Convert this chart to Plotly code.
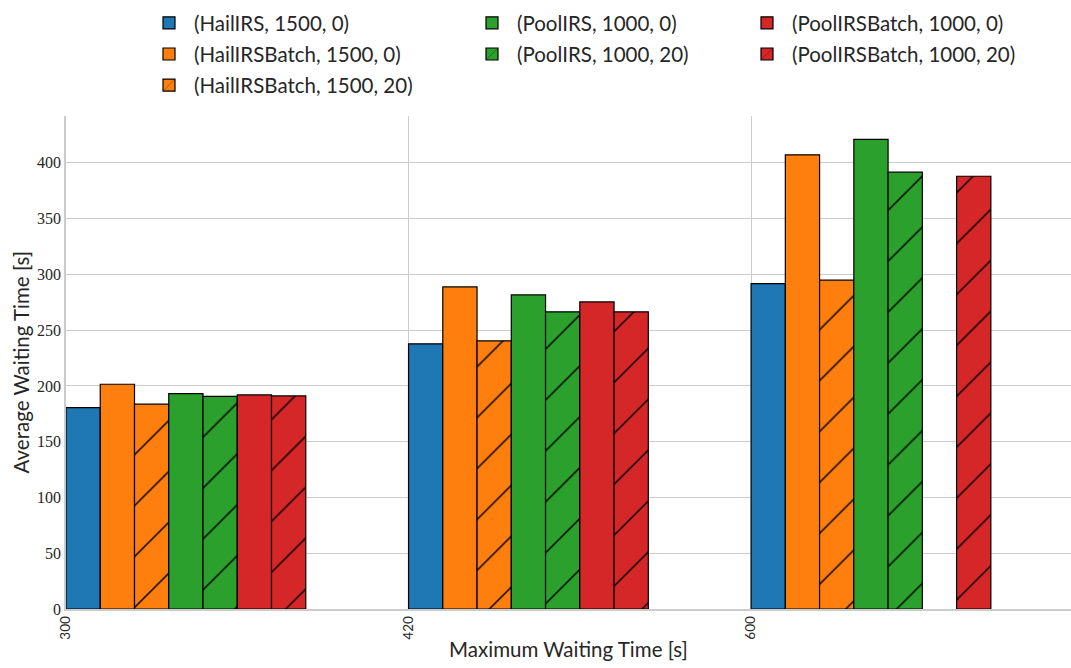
import plotly.graph_objects as go

categories = ["300", "420", "600"]
series_names = [
    "(HailIRS, 1500, 0)",
    "(HailIRSBatch, 1500, 0)",
    "(HailIRSBatch, 1500, 20)",
    "(PoolIRS, 1000, 0)",
    "(PoolIRS, 1000, 20)",
    "(PoolIRSBatch, 1000, 0)",
    "(PoolIRSBatch, 1000, 20)",
]
hail_irs_0 = [180.5, 237.7, 291.8]
hail_batch_0 = [201.5, 288.8, 407.2]
hail_batch_20 = [183.6, 240.4, 294.8]
pool_irs_0 = [193.1, 281.6, 421.0]
pool_irs_20 = [190.7, 266.4, 391.6]
pool_batch_0 = [191.9, 275.3, None]
pool_batch_20 = [191.0, 266.4, 388.0]

values = [hail_irs_0, hail_batch_0, hail_batch_20, pool_irs_0, pool_irs_20, pool_batch_0, pool_batch_20]
colors = ["#1f77b4", "#ff7f0e", "#ff7f0e", "#2ca02c", "#2ca02c", "#d62728", "#d62728"]
hatched = [False, False, True, False, True, False, True]
legend_ids = ["legend", "legend", "legend", "legend2", "legend2", "legend3", "legend3"]

x_title = "Maximum Waiting Time [s]"
y_title = "Average Waiting Time [s]"

bar_w = 0.1
sans = "Lato"
serif = "Liberation Serif"
txt = "#262626"

fig = go.Figure()
for k, (name, vals) in enumerate(zip(series_names, values)):
    xs = [i + k * bar_w for i in range(len(categories))]
    pattern = dict(shape="/", fgcolor="black", bgcolor=colors[k], size=36, solidity=0.04, fillmode="replace") if hatched[k] else dict(shape="")
    fig.add_trace(go.Bar(
        x=xs, y=vals, name=name, width=bar_w, offset=0,
        marker=dict(color=colors[k], line=dict(color="black", width=1.2), pattern=pattern),
        legend=legend_ids[k], legendgroup=f"g{k}",
    ))

W, H = 1071, 668
ml, mr, mt, mb = 66, 0, 116, 59
pw = W - ml - mr

def cx(px):
    return px / W

cy = 1 - 3 / H

legend_common = dict(
    orientation="v", yanchor="top", xanchor="left", y=cy,
    xref="container", yref="container",
    font=dict(family=sans, size=20.5, color=txt),
    bgcolor="rgba(0,0,0,0)", tracegroupgap=1.5, itemwidth=40,
)

fig.update_layout(
    width=W, height=H,
    margin=dict(l=ml, r=mr, t=mt, b=mb, autoexpand=False),
    plot_bgcolor="white", paper_bgcolor="white",
    barmode="overlay",
    showlegend=True,
    legend=dict(x=cx(144), **legend_common),
    legend2=dict(x=cx(467), **legend_common),
    legend3=dict(x=cx(742), **legend_common),
    xaxis=dict(
        range=[0, 2.934],
        tickmode="array", tickvals=list(range(len(categories))), ticktext=categories,
        tickangle=-90,
        tickfont=dict(family=sans, size=13.5, color=txt),
        showgrid=True, gridcolor="#cccccc", gridwidth=1,
        showline=True, linecolor="#cccccc", linewidth=1.5,
        zeroline=False, ticks="",
        title=dict(text=x_title, font=dict(family=sans, size=20.5, color=txt), standoff=4),
    ),
    yaxis=dict(
        range=[0, 442],
        tickmode="array", tickvals=[0, 50, 100, 150, 200, 250, 300, 350, 400],
        tickfont=dict(family=serif, size=16, color=txt),
        showgrid=True, gridcolor="#cccccc", gridwidth=1,
        showline=True, linecolor="#cccccc", linewidth=1.5,
        zeroline=False, ticks="",
    ),
    annotations=[dict(
        text=y_title, xref="paper", yref="paper",
        x=(20 - ml) / pw, y=0.5, xanchor="center", yanchor="middle",
        textangle=-90, showarrow=False,
        font=dict(family=sans, size=20.5, color=txt),
    )],
)

fig.write_html("out.html", config={"displayModeBar": False},
               post_script="document.body.style.margin='0';")
